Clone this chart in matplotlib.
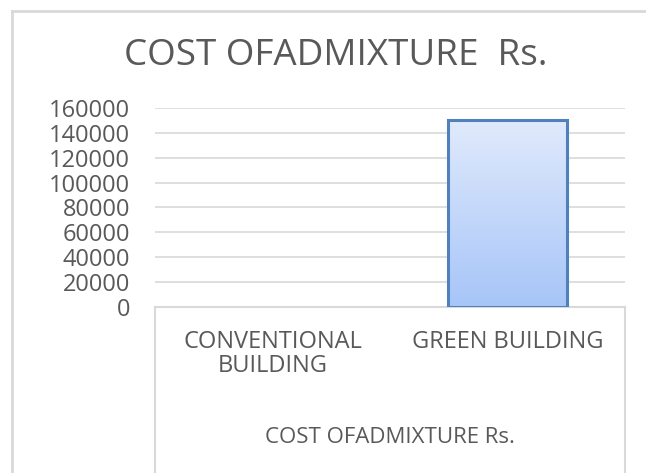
import numpy as np
import matplotlib.pyplot as plt
from matplotlib.lines import Line2D
from matplotlib.colors import LinearSegmentedColormap
from matplotlib.transforms import blended_transform_factory

# data
categories = ['CONVENTIONAL\nBUILDING', 'GREEN BUILDING']
values = [0, 150000]
group_label = 'COST OFADMIXTURE Rs.'
title = 'COST OFADMIXTURE  Rs.'
yticks = [0, 20000, 40000, 60000, 80000, 100000, 120000, 140000, 160000]

plt.rcParams['font.family'] = ['Open Sans', 'DejaVu Sans']
txt = '#595959'
grid = '#d9d9d9'

W, H = 646, 473
fig = plt.figure(figsize=(W / 100, H / 100), dpi=100)

# plot area in pixels: x 155..625, y 108..307
x0, x1, ytop, ybot = 155, 625, 108, 307
ax = fig.add_axes([x0 / W, 1 - ybot / H, (x1 - x0) / W, (ybot - ytop) / H])

x = np.arange(len(categories))
bars = ax.bar(x, values, width=0.51, color='none', edgecolor='#4f81bd',
              linewidth=2.2, zorder=3)

# vertical gradient fill inside each bar
grad = np.linspace(0, 1, 256).reshape(-1, 1)
cmap = LinearSegmentedColormap.from_list('g', ['#a7c5f8', '#e0eafc'])
for b in bars:
    if b.get_height() <= 0:
        b.set_visible(False)
        continue
    bx, by = b.get_x(), b.get_y()
    im = ax.imshow(grad, cmap=cmap, aspect='auto', origin='lower',
                   extent=[bx, bx + b.get_width(), by, by + b.get_height()],
                   zorder=2)
    im.set_clip_path(b)

ax.set_xlim(-0.5, 1.5)
ax.set_ylim(0, 160000)
ax.set_yticks(yticks)
ax.set_yticklabels([str(v) for v in yticks], color=txt, fontsize=17)
ax.set_xticks([])
ax.tick_params(axis='y', length=0, pad=18)
ax.yaxis.grid(True, color=grid, linewidth=1.2, zorder=0)
ax.set_axisbelow(True)
for s in ['top', 'right', 'left']:
    ax.spines[s].set_visible(False)
ax.spines['bottom'].set_color(grid)
ax.spines['bottom'].set_linewidth(1.5)

# multi-level category box below the axis
for px in (x0, x1):
    fig.add_artist(Line2D([px / W, px / W], [1 - ybot / H, 0], color=grid, lw=1.5))
cat_trans = blended_transform_factory(ax.transData, fig.transFigure)
for i, c in enumerate(categories):
    ax.text(x[i], 1 - 330 / H, c, transform=cat_trans, ha='center', va='top',
            fontsize=17, color=txt, linespacing=1.0)
fig.text(390 / W, 1 - 437 / H, group_label, ha='center', va='center',
         fontsize=16, color=txt)

# chart area border (left and top visible)
fig.add_artist(Line2D([12 / W, 12 / W], [0, 1 - 11 / H], color=grid, lw=2))
fig.add_artist(Line2D([12 / W, 1], [1 - 11 / H, 1 - 11 / H], color=grid, lw=2))

fig.text(336 / W, 1 - 56 / H, title, ha='center', va='center', fontsize=26.5,
         color=txt)

fig.savefig('out.png', dpi=100)
